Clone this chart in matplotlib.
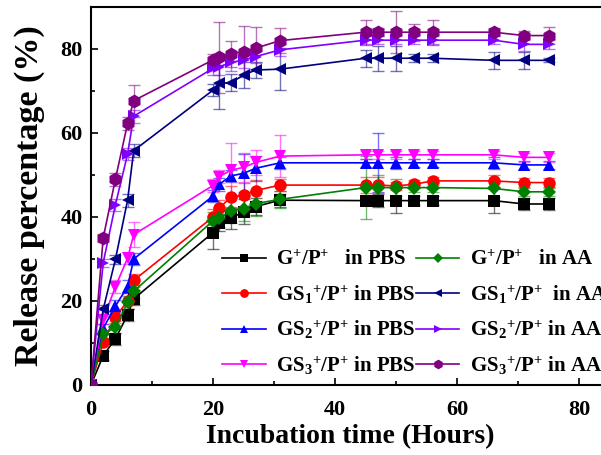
import matplotlib
matplotlib.use("Agg")
import matplotlib.pyplot as plt
import numpy as np

plt.rcParams['font.family'] = ['Liberation Serif', 'DejaVu Serif']
plt.rcParams['font.weight'] = 'bold'
plt.rcParams['mathtext.fontset'] = 'custom'
plt.rcParams['mathtext.rm'] = 'Liberation Serif:bold'
plt.rcParams['mathtext.it'] = 'Liberation Serif:bold'
plt.rcParams['mathtext.bf'] = 'Liberation Serif:bold'

hours = [0, 2, 4, 6, 7, 20, 21, 23, 25, 27, 31, 45, 47, 50, 53, 56, 66, 71, 75]

g_pbs = [0, 7.0, 11.0, 16.7, 20.5, 36.3, 38.6, 39.7, 41.3, 42.5, 44.0, 43.9, 43.9, 43.9, 43.9, 43.9, 43.9, 43.1, 43.1]
gs1_pbs = [0, 10.3, 16.2, 20.0, 24.9, 40.0, 42.1, 44.8, 45.2, 46.3, 47.6, 47.6, 47.6, 47.4, 47.8, 48.6, 48.6, 48.2, 48.2]
gs2_pbs = [0, 13.5, 18.8, 23.4, 30.0, 45.0, 47.8, 49.8, 50.4, 51.6, 52.9, 52.9, 52.9, 52.9, 52.9, 52.9, 52.9, 52.4, 52.4]
gs3_pbs = [0, 15.5, 23.4, 30.2, 35.8, 47.5, 49.6, 51.2, 51.8, 53.0, 54.5, 54.8, 54.8, 54.8, 54.8, 54.8, 54.8, 54.2, 54.2]
g_aa = [0, 12.1, 13.7, 19.7, 22.3, 39.1, 39.7, 41.5, 42.0, 43.2, 44.2, 47.0, 47.0, 47.0, 47.0, 47.0, 46.8, 46.0, 46.0]
gs1_aa = [0, 18.0, 29.9, 44.0, 55.8, 70.2, 71.8, 72.0, 73.8, 75.0, 75.2, 77.8, 77.8, 77.8, 77.8, 77.8, 77.3, 77.3, 77.3]
gs2_aa = [0, 29.1, 42.9, 55.0, 64.0, 75.4, 75.8, 76.8, 77.4, 78.2, 79.8, 82.1, 82.1, 82.1, 82.1, 82.1, 82.1, 81.1, 81.1]
gs3_aa = [0, 35.0, 49.0, 62.3, 67.7, 77.4, 78.0, 78.8, 79.4, 80.2, 82.0, 84.0, 84.0, 84.0, 84.0, 84.0, 84.0, 83.2, 83.2]

g_pbs_err = [0, 1.0, 1.5, 1.5, 1.5, 4.0, 2.0, 2.5, 3.0, 2.0, 1.5, 1.0, 1.5, 3.0, 1.0, 1.0, 3.0, 1.5, 1.5]
gs1_pbs_err = [0, 1.0, 1.5, 2.0, 1.5, 2.0, 2.0, 2.5, 3.0, 2.5, 1.5, 2.0, 2.0, 1.0, 1.0, 1.0, 1.5, 1.0, 1.0]
gs2_pbs_err = [0, 1.0, 1.5, 1.5, 1.5, 1.5, 1.5, 1.5, 4.5, 3.0, 1.5, 1.0, 7.0, 1.5, 1.0, 1.0, 1.5, 1.0, 1.0]
gs3_pbs_err = [0, 1.0, 1.5, 1.5, 3.0, 1.5, 1.5, 6.5, 3.5, 3.0, 5.0, 1.0, 1.0, 1.0, 1.0, 1.0, 1.0, 1.0, 1.0]
g_aa_err = [0, 1.0, 1.5, 1.5, 1.5, 2.0, 2.0, 3.0, 3.0, 3.0, 2.0, 7.5, 3.0, 2.0, 1.0, 1.0, 2.0, 1.0, 1.0]
gs1_aa_err = [0, 1.0, 1.0, 1.5, 1.5, 1.5, 6.0, 2.0, 3.0, 2.0, 5.0, 2.0, 3.0, 3.0, 1.0, 1.0, 2.0, 2.0, 0.5]
gs2_aa_err = [0, 1.0, 1.5, 1.5, 1.5, 1.5, 2.0, 2.0, 2.0, 1.5, 1.5, 1.0, 1.0, 1.0, 1.0, 1.0, 1.0, 1.5, 1.0]
gs3_aa_err = [0, 1.0, 1.5, 1.5, 3.8, 1.5, 8.4, 3.0, 6.0, 5.0, 3.0, 3.0, 1.0, 5.0, 2.0, 3.0, 1.0, 1.0, 2.0]

labels = [r"G$^{+}$/P$^{+}$   in PBS", r"GS$_{1}{}^{+}$/P$^{+}$ in PBS",
          r"GS$_{2}{}^{+}$/P$^{+}$ in PBS", r"GS$_{3}{}^{+}$/P$^{+}$ in PBS",
          r"G$^{+}$/P$^{+}$   in AA", r"GS$_{1}{}^{+}$/P$^{+}$  in AA",
          r"GS$_{2}{}^{+}$/P$^{+}$ in AA", r"GS$_{3}{}^{+}$/P$^{+}$ in AA"]

series = [g_pbs, gs1_pbs, gs2_pbs, gs3_pbs, g_aa, gs1_aa, gs2_aa, gs3_aa]
errors = [g_pbs_err, gs1_pbs_err, gs2_pbs_err, gs3_pbs_err, g_aa_err, gs1_aa_err, gs2_aa_err, gs3_aa_err]
colors = ['#000000', '#ff0000', '#0000ff', '#ff00ff', '#008000', '#000080', '#8000ff', '#800080']
markers = ['s', 'o', '^', 'v', 'D', '<', '>', 'h']
msizes = [8, 9, 9, 9, 7.5, 9, 9, 10]

fig = plt.figure(figsize=(6.01, 4.55), dpi=100)
ax = fig.add_axes([91/601, 70/455, 518.5/601, 378/455])

handles = []
for y, e, c, m, ms, lab in zip(series, errors, colors, markers, msizes, labels):
    ax.errorbar(hours, y, yerr=e, fmt='none', ecolor=c, elinewidth=1.0,
                capsize=4, capthick=1.0, alpha=0.55, zorder=2)
    ln, = ax.plot(hours, y, color=c, marker=m, markersize=ms, linewidth=1.2,
                  markeredgewidth=0, label=lab, zorder=3)
    handles.append(ln)

ax.set_xlim(0, 85)
ax.set_ylim(0, 90)
ax.set_xticks([0, 20, 40, 60, 80])
ax.set_xticks([10, 30, 50, 70], minor=True)
ax.set_yticks([0, 20, 40, 60, 80])
ax.set_yticks([10, 30, 50, 70], minor=True)
ax.tick_params(which='both', direction='in', top=False, right=False, width=1.2)
ax.tick_params(which='major', length=5, labelsize=16)
ax.tick_params(which='minor', length=3)
ax.tick_params(axis='x', which='major', pad=11)
ax.tick_params(axis='y', which='major', pad=6)
for lab in ax.get_xticklabels() + ax.get_yticklabels():
    lab.set_fontweight('bold')
for sp in ax.spines.values():
    sp.set_linewidth(1.5)

ax.set_xlabel('Incubation time (Hours)', fontsize=20, fontweight='bold', labelpad=3)
ax.set_ylabel('Release percentage (%)', fontsize=24.5, fontweight='bold', labelpad=11)

leg = ax.legend(handles=handles, ncol=2, loc='upper left',
                bbox_to_anchor=(222/601, 1 - 250/455), bbox_transform=fig.transFigure,
                frameon=False, fontsize=15, handlelength=2.1, handletextpad=0.5,
                columnspacing=0.0, labelspacing=0.63, markerscale=0.7,
                borderaxespad=0, borderpad=0)
for t in leg.get_texts():
    t.set_fontweight('bold')

fig.savefig('out.png', dpi=100)
